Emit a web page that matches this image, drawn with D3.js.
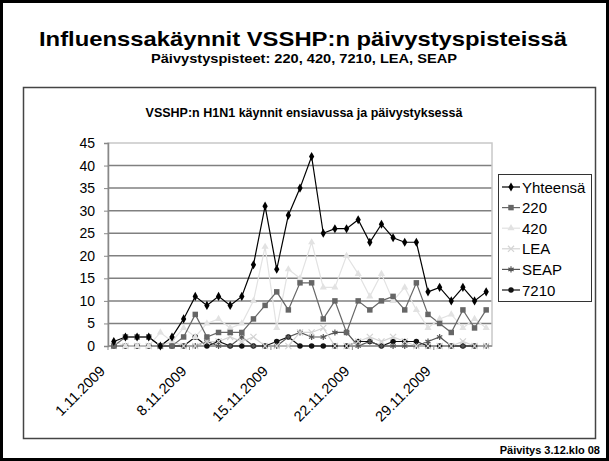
<!DOCTYPE html>
<html>
<head>
<meta charset="utf-8">
<script src="https://cdn.jsdelivr.net/npm/d3@7"></script>
<style>
  body { margin: 0; background: #fff; }
  svg { display: block; font-family: Arial, "Liberation Sans", sans-serif; }
</style>
</head>
<body>
<div id="chart"></div>
<script>
// days on the x axis (1.11.2009 - 3.12.2009)
const days = [
  "2009-11-01", "2009-11-02", "2009-11-03", "2009-11-04", "2009-11-05", "2009-11-06",
  "2009-11-07", "2009-11-08", "2009-11-09", "2009-11-10", "2009-11-11", "2009-11-12",
  "2009-11-13", "2009-11-14", "2009-11-15", "2009-11-16", "2009-11-17", "2009-11-18",
  "2009-11-19", "2009-11-20", "2009-11-21", "2009-11-22", "2009-11-23", "2009-11-24",
  "2009-11-25", "2009-11-26", "2009-11-27", "2009-11-28", "2009-11-29", "2009-11-30",
  "2009-12-01", "2009-12-02", "2009-12-03"
];
const tickDays = ["2009-11-01", "2009-11-08", "2009-11-15", "2009-11-22", "2009-11-29"];
const tickLabels = ["1.11.2009", "8.11.2009", "15.11.2009", "22.11.2009", "29.11.2009"];
const yTicks = [0, 5, 10, 15, 20, 25, 30, 35, 40, 45];

const yhteensa = [1, 2, 2, 2, 0, 2, 6, 11, 9, 11, 9, 11, 18, 31, 17, 29, 35, 42, 25, 26, 26, 28, 23, 27, 24, 23, 23, 12, 13, 10, 13, 10, 12];
const s220 = [0, 2, 2, 2, 0, 0, 2, 7, 2, 3, 3, 3, 6, 9, 12, 8, 14, 14, 6, 10, 3, 10, 8, 10, 11, 8, 14, 7, 5, 3, 8, 4, 8];
const s420 = [1, 0, 0, 0, 3, 1, 4, 2, 5, 6, 4, 5, 10, 22, 4, 17, 15, 23, 13, 13, 20, 16, 11, 16, 10, 13, 8, 4, 6, 7, 4, 6, 4];
const lea = [0, 0, 0, 0, 0, 1, 0, 0, 1, 1, 2, 1, 2, 0, 0, 0, 3, 3, 4, 0, 0, 1, 2, 1, 2, 1, 0, 0, 0, 0, 1, 0, 0];
const seap = [0, 0, 0, 0, 0, 0, 0, 0, 1, 0, 0, 2, 0, 0, 0, 2, 3, 2, 2, 3, 3, 0, 1, 0, 0, 0, 0, 1, 2, 0, 0, 0, 0];
const s7210 = [0, 0, 0, 0, 0, 0, 0, 2, 0, 1, 0, 0, 0, 0, 1, 2, 0, 0, 0, 0, 0, 1, 1, 0, 1, 1, 1, 0, 0, 0, 0, 0];

const series = [
  { name: "Yhteensä", values: yhteensa, color: "#000", symbol: d3.symbolDiamond, size: 24, fill: true },
  { name: "220", values: s220, color: "#666", symbol: d3.symbolSquare, size: 30, fill: true },
  { name: "420", values: s420, color: "#e2e2e2", symbol: d3.symbolTriangle, size: 22, fill: true },
  { name: "LEA", values: lea, color: "#d4d4d4", symbol: d3.symbolTimes, size: 26, fill: false },
  { name: "SEAP", values: seap, color: "#555", symbol: d3.symbolAsterisk, size: 26, fill: false },
  { name: "7210", values: s7210, color: "#111", symbol: d3.symbolCircle, size: 24, fill: true }
];

const width = 609, height = 461;
const plot = { left: 108, right: 492, top: 143, bottom: 346 };

const svg = d3.select("#chart")
  .append("svg")
  .attr("width", width)
  .attr("height", height);

svg.append("rect")
  .attr("x", 0).attr("y", 0)
  .attr("width", width).attr("height", height)
  .attr("fill", "#fff");

// slide frame
svg.append("rect")
  .attr("x", 1.5).attr("y", 1.5)
  .attr("width", width - 3).attr("height", height - 3)
  .attr("fill", "none")
  .attr("stroke", "#000")
  .attr("stroke-width", 3);

svg.append("text")
  .attr("x", 303).attr("y", 46)
  .attr("text-anchor", "middle")
  .attr("font-size", "21px")
  .attr("font-weight", "bold")
  .attr("textLength", 528)
  .attr("lengthAdjust", "spacingAndGlyphs")
  .text("Influenssakäynnit VSSHP:n päivystyspisteissä");

svg.append("text")
  .attr("x", 304).attr("y", 63)
  .attr("text-anchor", "middle")
  .attr("font-size", "13.5px")
  .attr("font-weight", "bold")
  .attr("textLength", 306)
  .attr("lengthAdjust", "spacingAndGlyphs")
  .text("Päivystyspisteet: 220, 420, 7210, LEA, SEAP");

svg.append("text")
  .attr("x", 600).attr("y", 454)
  .attr("text-anchor", "end")
  .attr("font-size", "11px")
  .attr("font-weight", "bold")
  .text("Päivitys 3.12.klo 08");

// chart box
svg.append("rect")
  .attr("x", 23.5).attr("y", 87.5)
  .attr("width", 572).attr("height", 351)
  .attr("fill", "#fff")
  .attr("stroke", "#444")
  .attr("stroke-width", 1.5);

svg.append("text")
  .attr("x", 304).attr("y", 117)
  .attr("text-anchor", "middle")
  .attr("font-size", "12.5px")
  .attr("font-weight", "bold")
  .text("VSSHP:n H1N1 käynnit ensiavussa ja päivystyksessä");

const parse = d3.timeParse("%Y-%m-%d");
const dates = days.map(parse);

const x = d3.scaleBand()
  .domain(dates.map(d => +d))
  .range([plot.left, plot.right]);

const px = i => x(+dates[i]) + x.bandwidth() / 2;

const y = d3.scaleLinear()
  .domain([0, 45])
  .range([plot.bottom, plot.top]);

// gridlines
svg.append("g")
  .selectAll("line")
  .data(yTicks.filter(v => v > 0 && v < 45))
  .join("line")
  .attr("x1", plot.left).attr("x2", plot.right)
  .attr("y1", d => y(d)).attr("y2", d => y(d))
  .attr("stroke", "#808080")
  .attr("stroke-width", 1.5);

svg.append("rect")
  .attr("x", plot.left).attr("y", y(45))
  .attr("width", plot.right - plot.left).attr("height", y(0) - y(45))
  .attr("fill", "none")
  .attr("stroke", "#c8c8c8")
  .attr("stroke-width", 1.5);

// y axis
const yAxis = svg.append("g")
  .attr("transform", `translate(${plot.left},0)`)
  .call(d3.axisLeft(y).tickValues(yTicks).tickSize(4).tickPadding(9));
yAxis.select(".domain").attr("stroke", "#888").attr("stroke-width", 1.5);
yAxis.selectAll(".tick line").attr("stroke", "#888");
yAxis.selectAll("text").attr("font-size", "14px").attr("fill", "#000")
  .attr("font-family", "Arial, 'Liberation Sans', sans-serif");

// x axis
const xAxis = svg.append("g")
  .attr("transform", `translate(0,${plot.bottom})`);
xAxis.append("line")
  .attr("x1", plot.left).attr("x2", plot.right)
  .attr("stroke", "#888").attr("stroke-width", 1.5);
xAxis.selectAll(".xt")
  .data(tickDays)
  .join("line")
  .attr("class", "xt")
  .attr("x1", d => x(+parse(d))).attr("x2", d => x(+parse(d)))
  .attr("y1", 0).attr("y2", 4)
  .attr("stroke", "#888");
xAxis.selectAll("text")
  .data(tickDays)
  .join("text")
  .attr("text-anchor", "end")
  .attr("font-size", "14.5px")
  .attr("transform", d => `translate(${x(+parse(d)) - 2},${26}) rotate(-45)`)
  .text((d, i) => tickLabels[i]);

// lines + markers
const line = d3.line()
  .x((d, i) => px(i))
  .y(d => y(d));

series.slice().reverse().forEach(s => {
  svg.append("path")
    .datum(s.values)
    .attr("fill", "none")
    .attr("stroke", s.color)
    .attr("stroke-width", 1.2)
    .attr("d", line);
});

series.slice().reverse().forEach(s => {
  const sym = d3.symbol().type(s.symbol).size(s.size);
  svg.append("g")
    .selectAll("path")
    .data(s.values)
    .join("path")
    .attr("transform", (d, i) => `translate(${px(i)},${y(d)})`)
    .attr("d", sym)
    .attr("fill", s.fill ? s.color : "none")
    .attr("stroke", s.fill ? "none" : s.color)
    .attr("stroke-width", 1.2);
});

// legend
const legend = svg.append("g");
legend.append("rect")
  .attr("x", 498.5).attr("y", 174.5)
  .attr("width", 93).attr("height", 127)
  .attr("fill", "#fff")
  .attr("stroke", "#333");

const item = legend.selectAll(".item")
  .data(series)
  .join("g")
  .attr("class", "item")
  .attr("transform", (d, i) => `translate(0,${187 + i * 20.6})`);

item.append("line")
  .attr("x1", 502).attr("x2", 520)
  .attr("stroke", d => d.color)
  .attr("stroke-width", 1.2);

item.append("path")
  .attr("transform", "translate(511,0)")
  .attr("d", d => d3.symbol().type(d.symbol).size(d.size)())
  .attr("fill", d => d.fill ? d.color : "none")
  .attr("stroke", d => d.fill ? "none" : d.color)
  .attr("stroke-width", 1.2);

item.append("text")
  .attr("x", 522).attr("y", 5.5)
  .attr("font-size", "15px")
  .text(d => d.name);
</script>
</body>
</html>
